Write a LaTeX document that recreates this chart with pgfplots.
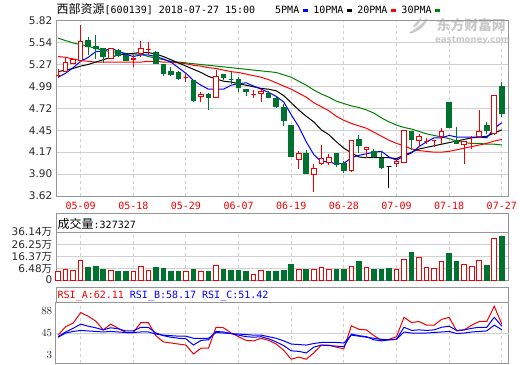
\documentclass[border=0pt]{standalone}
\usepackage{pgfplots}
\pgfplotsset{compat=1.18}
\usepackage{pgfplotstable}
\usepackage{fontspec}
\setmainfont{DejaVu Sans}
\newfontfamily\cjk{Noto Sans CJK SC}
\newfontfamily\mono{DejaVu Sans Mono}
\definecolor{cred}{RGB}{240,0,0}
\definecolor{cgreen}{RGB}{0,114,48}
\definecolor{gridc}{RGB}{208,208,208}
\definecolor{framec}{RGB}{150,150,150}
\definecolor{tickc}{RGB}{40,40,40}
\definecolor{mablue}{RGB}{0,0,255}
\definecolor{mared}{RGB}{255,0,0}
\definecolor{magreen}{RGB}{0,128,0}
\definecolor{wm}{RGB}{200,200,200}

\pgfdeclareplotmark{candle}{%
  \pgfpathmoveto{\pgfpoint{0bp}{\CandLO*79.7bp}}%
  \pgfpathlineto{\pgfpoint{0bp}{\CandHO*79.7bp}}%
  \pgfusepathqstroke
  \pgfpathrectangle{\pgfpoint{-2.3bp}{0bp}}{\pgfpoint{4.6bp}{\CandCO*79.7bp}}%
  \pgfusepathqfillstroke}
\pgfdeclareplotmark{volbar}{%
  \pgfpathrectangle{\pgfpoint{-2.3bp}{0bp}}{\pgfpoint{4.6bp}{-\VolH*1.2374bp}}%
  \pgfusepathqfillstroke}

\pgfplotstableread{
i o h l c
0 5.126 5.218 5.100 5.126
1 5.176 5.365 5.170 5.290
2 5.280 5.340 5.270 5.330
3 5.315 5.765 5.300 5.563
7 5.345 5.480 5.340 5.470
10 5.335 5.395 5.240 5.340
11 5.408 5.563 5.370 5.470
12 5.460 5.555 5.390 5.460
17 5.105 5.155 5.050 5.105
19 4.870 4.930 4.800 4.894
21 4.860 5.197 4.855 5.120
26 4.894 4.945 4.848 4.894
27 4.900 4.960 4.800 4.930
32 4.074 4.190 3.965 4.158
34 3.893 4.020 3.674 3.969
35 4.028 4.259 4.011 4.091
36 4.040 4.150 4.007 4.104
39 3.944 4.322 3.915 4.322
41 4.209 4.240 4.100 4.230
45 4.030 4.080 3.985 4.050
46 4.040 4.448 4.030 4.448
48 4.322 4.400 4.240 4.364
49 4.306 4.348 4.272 4.306
50 4.314 4.322 4.238 4.314
51 4.369 4.473 4.259 4.427
54 4.270 4.310 4.020 4.300
55 4.285 4.370 4.210 4.285
56 4.369 4.700 4.356 4.427
58 4.398 4.882 4.385 4.882
}\upc
\pgfplotstableread{
i o h l c
4 5.576 5.610 5.395 5.490
5 5.500 5.640 5.345 5.470
6 5.470 5.480 5.290 5.366
8 5.450 5.460 5.370 5.380
9 5.387 5.395 5.310 5.315
13 5.420 5.440 5.270 5.280
14 5.270 5.280 5.130 5.160
15 5.176 5.240 5.130 5.143
16 5.170 5.190 5.080 5.100
18 5.070 5.080 4.800 4.820
20 4.894 4.915 4.700 4.860
22 5.143 5.143 5.070 5.110
23 5.080 5.180 5.030 5.080
24 5.084 5.110 4.930 4.987
25 4.958 4.960 4.870 4.930
28 4.911 4.932 4.852 4.860
29 4.848 4.860 4.720 4.743
30 4.735 4.775 4.495 4.566
31 4.503 4.510 4.115 4.116
33 4.154 4.196 3.893 3.906
37 4.154 4.154 3.990 4.020
38 4.028 4.060 3.910 3.944
40 4.327 4.390 4.154 4.250
42 4.175 4.210 4.095 4.116
43 4.091 4.190 3.955 3.977
47 4.432 4.432 4.200 4.335
52 4.789 4.789 4.470 4.482
53 4.314 4.480 4.270 4.280
57 4.503 4.553 4.398 4.440
59 4.995 5.050 4.617 4.659
}\dnc
\pgfplotstableread{
i o h l c
44 3.990 3.990 3.720 3.990
}\flatc
\pgfplotstableread{
i ma5 ma10 ma20 ma30
0 5.11 5.18 5.37 5.60
1 5.16 5.20 5.36 5.57
2 5.23 5.22 5.34 5.54
3 5.31 5.25 5.32 5.52
4 5.36 5.27 5.31 5.50
5 5.43 5.30 5.30 5.47
6 5.44 5.33 5.30 5.45
7 5.47 5.36 5.30 5.43
8 5.44 5.39 5.30 5.42
9 5.40 5.40 5.30 5.41
10 5.37 5.41 5.30 5.40
11 5.39 5.42 5.30 5.40
12 5.39 5.42 5.31 5.37
13 5.37 5.40 5.31 5.35
14 5.34 5.37 5.30 5.33
15 5.30 5.33 5.30 5.31
16 5.23 5.29 5.29 5.30
17 5.16 5.25 5.28 5.29
18 5.07 5.21 5.26 5.28
19 5.01 5.17 5.25 5.27
20 4.96 5.12 5.23 5.26
21 4.96 5.09 5.22 5.25
22 4.96 5.06 5.20 5.24
23 5.01 5.05 5.18 5.23
24 5.03 5.03 5.17 5.22
25 5.04 5.01 5.15 5.21
26 5.00 4.99 5.13 5.20
27 4.96 4.97 5.11 5.19
28 4.92 4.96 5.08 5.18
29 4.87 4.94 5.04 5.17
30 4.80 4.88 5.00 5.14
31 4.64 4.79 4.96 5.11
32 4.49 4.70 4.91 5.06
33 4.30 4.62 4.86 5.01
34 4.14 4.55 4.79 4.95
35 4.05 4.45 4.74 4.90
36 4.05 4.39 4.69 4.86
37 4.02 4.30 4.62 4.81
38 4.03 4.22 4.57 4.78
39 4.10 4.16 4.53 4.75
40 4.13 4.11 4.50 4.73
41 4.15 4.10 4.47 4.70
42 4.17 4.10 4.42 4.66
43 4.18 4.10 4.37 4.60
44 4.11 4.10 4.32 4.55
45 4.07 4.09 4.28 4.51
46 4.12 4.13 4.25 4.48
47 4.16 4.17 4.21 4.46
48 4.24 4.21 4.19 4.43
49 4.30 4.23 4.18 4.40
50 4.35 4.25 4.17 4.38
51 4.35 4.27 4.17 4.36
52 4.38 4.29 4.18 4.34
53 4.36 4.31 4.20 4.31
54 4.36 4.33 4.22 4.29
55 4.36 4.35 4.24 4.28
56 4.36 4.36 4.26 4.28
57 4.35 4.37 4.28 4.27
58 4.47 4.41 4.31 4.27
59 4.54 4.45 4.33 4.26
}\matab
\pgfplotstableread{
i v
0 4.3
1 6.2
2 5.1
3 13.7
7 4.9
10 4.3
11 8.1
12 5.1
17 4.3
19 4.3
21 9.7
26 2.4
27 4.9
32 5.7
34 5.7
35 7.8
36 5.7
39 8.6
41 7.8
45 5.7
46 14.3
48 15.9
49 7.8
50 6.5
51 12.7
54 10.5
55 8.6
56 13.5
58 31.3
}\upv
\pgfplotstableread{
i v
4 7.5
5 8.1
6 5.9
8 4.3
9 4.3
13 7.5
14 6.7
15 4.3
16 4.3
18 5.9
20 4.3
22 5.9
23 5.1
24 5.1
25 4.3
28 4.3
29 4.3
30 5.1
31 10.5
33 5.7
37 5.7
38 5.7
40 12.9
42 5.7
43 5.7
44 6.5
47 20.2
52 18.6
53 12.9
57 8.9
59 32.73
}\dnv
\pgfplotstableread{
i a b c
0 41 38 37
1 57 47 45
2 64 54 48
3 84 62 50
4 77 58 49
5 68 55 48
6 51 51 47
7 62 55 48
8 54 53 47
9 46 49 46
10 46 49 46
11 65 56 47
12 65 56 47
13 40 45 43
14 28 40 41
15 26 37 40
16 24 35 39
17 22 34 39
18 5 22 35
19 16 31 35
20 16 32 35
21 56 48 46
22 55 47 45
23 45 44 44
24 38 41 43
25 31 38 42
26 30 37 41
27 35 38 41
28 31 34 38
29 24 28 35
30 12 21 30
31 -5 11 24
32 -1 10 23
33 -5 7 22
34 7 18 25
35 22 22 27
36 22 21 27
37 18 20 27
38 15 19 26
39 59 43 41
40 52 40 39
41 51 38 37
42 40 32 35
43 31 30 33
44 33 32 32
45 38 33 33
46 75 56 47
47 65 50 45
48 67 51 45
49 60 50 45
50 60 51 46
51 71 56 47
52 75 58 48
53 49 50 44
54 51 51 45
55 60 54 47
56 67 56 48
57 67 56 49
58 96 75 60
59 62.11 58.17 51.42
}\rsitab

\pgfplotsset{
  panel/.style={
    anchor=south west, x=7.52bp, xmin=-0.28, xmax=59.95,
    xtick={3,10,17,24,31,38,45,52,59},
    axis line style={framec, line width=1bp},
    xmajorgrids,
    x grid style={gridc, dash pattern=on 3bp off 3bp, line width=1bp},
    y grid style={gridc, line width=1bp},
    major tick length=0pt,
    tick style={draw=none},
    ticklabel style={font=\fontsize{10.5bp}{12bp}\selectfont, text=tickc},
    yticklabel style={inner xsep=0pt, xshift=-3.6bp},
  },
}

\begin{document}
\begin{tikzpicture}
\useasboundingbox (0,0) rectangle (520bp,-365bp);

% watermark (behind the price panel)
\fill[wm] (409bp,-32.5bp) .. controls (416bp,-29bp) and (422bp,-24bp) .. (427.5bp,-17.5bp)
  .. controls (426bp,-26bp) and (419bp,-31bp) .. (411bp,-33.5bp) -- cycle;
\fill[wm] (413bp,-26bp) .. controls (416bp,-23bp) and (419bp,-20bp) .. (421bp,-17bp)
  .. controls (421bp,-21bp) and (418bp,-25bp) .. (414bp,-27.5bp) -- cycle;
\node[anchor=base west, inner sep=0pt, text=wm] at (436.5bp,-30.5bp)
  {\cjk\bfseries\fontsize{13.8bp}{15bp}\selectfont 东方财富网};
\node[anchor=base west, inner sep=0pt, text=wm] at (435bp,-42.3bp)
  {\bfseries\fontsize{8.5bp}{9bp}\selectfont eastmoney.com};

% main price panel
\begin{axis}[panel, name=main, at={(56bp,-196bp)}, y=79.7bp, ymin=3.62, ymax=5.82,
  ymajorgrids,
  ytick={3.62,3.895,4.17,4.445,4.72,4.995,5.27,5.545,5.82},
  yticklabels={3.62,3.90,4.17,4.45,4.72,4.99,5.27,5.54,5.82},
  xticklabels={05-09,05-18,05-29,06-07,06-19,06-28,07-09,07-18,07-27},
  xticklabel style={font=\mono\fontsize{10bp}{12bp}\selectfont, text=cred, anchor=center, yshift=-10bp},
]
\addplot[only marks, mark=candle, mark options={draw=cred, fill=white, line width=1bp},
  visualization depends on={\thisrow{h}-\thisrow{o} \as \CandHO},
  visualization depends on={\thisrow{l}-\thisrow{o} \as \CandLO},
  visualization depends on={\thisrow{c}-\thisrow{o} \as \CandCO}]
  table[x=i, y=o]{\upc};
\addplot[only marks, mark=candle, mark options={draw=cgreen, fill=cgreen, line width=1bp},
  visualization depends on={\thisrow{h}-\thisrow{o} \as \CandHO},
  visualization depends on={\thisrow{l}-\thisrow{o} \as \CandLO},
  visualization depends on={\thisrow{c}-\thisrow{o} \as \CandCO}]
  table[x=i, y=o]{\dnc};
\addplot[only marks, mark=candle, mark options={draw=black, fill=black, line width=1bp},
  visualization depends on={\thisrow{h}-\thisrow{o} \as \CandHO},
  visualization depends on={\thisrow{l}-\thisrow{o} \as \CandLO},
  visualization depends on={\thisrow{c}-\thisrow{o} \as \CandCO}]
  table[x=i, y=o]{\flatc};
\addplot[magreen, line width=1bp, mark=none] table[x=i, y=ma30]{\matab};
\addplot[mared, line width=1bp, mark=none] table[x=i, y=ma20]{\matab};
\addplot[black, line width=1bp, mark=none] table[x=i, y=ma10]{\matab};
\addplot[mablue, line width=1bp, mark=none] table[x=i, y=ma5]{\matab};
\end{axis}

% volume panel
\begin{axis}[panel, name=vol, at={(56bp,-280bp)}, y=1.2374bp, ymin=-2.42, ymax=36.14,
  ymajorgrids,
  ytick={-2.42,6.48,16.37,26.25,36.14},
  yticklabels={0,6.48{\cjk 万},16.37{\cjk 万},26.25{\cjk 万},36.14{\cjk 万}},
  xticklabels={},
]
\addplot[only marks, mark=volbar, mark options={draw=cred, fill=white, line width=1bp},
  visualization depends on={\thisrow{v}+2.42 \as \VolH}]
  table[x=i, y=v]{\upv};
\addplot[only marks, mark=volbar, mark options={draw=cgreen, fill=cgreen, line width=1bp},
  visualization depends on={\thisrow{v}+2.42 \as \VolH}]
  table[x=i, y=v]{\dnv};
\end{axis}

% RSI panel
\begin{axis}[panel, name=rsi, at={(56bp,-363.3bp)}, y=0.5239bp, ymin=-12.8, ymax=104.2,
  ytick={3,88}, extra y ticks={45}, extra y tick style={grid=major},
  xticklabels={},
]
\addplot[cred, line width=1bp, mark=none] table[x=i, y=a]{\rsitab};
\addplot[mablue, line width=1bp, mark=none] table[x=i, y=b]{\rsitab};
\addplot[mablue, line width=1bp, mark=none] table[x=i, y=c]{\rsitab};
\end{axis}

% header boxes
\draw[framec, line width=1bp] (vol.north west) -- ++(0,18.3bp) -| (vol.north east);
\draw[framec, line width=1bp] (rsi.north west) -- ++(0,14.7bp) -| (rsi.north east);

% title and legend
\node[anchor=base west, inner sep=0pt] at (56.5bp,-13.5bp)
  {{\cjk\fontsize{12bp}{12bp}\selectfont 西部资源}{\mono\fontsize{10bp}{12bp}\selectfont [600139] 2018-07-27 15:00}};
\node[anchor=base west, inner sep=0pt] at (275bp,-13.5bp)
  {\mono\fontsize{10bp}{12bp}\selectfont 5PMA\hspace{3.5bp}{\color{mablue}\rule[1.8bp]{5bp}{3bp}}\hspace{5.5bp}10PMA\hspace{3.5bp}{\color{black}\rule[1.8bp]{5bp}{3bp}}\hspace{5.5bp}20PMA\hspace{3.5bp}{\color{mared}\rule[1.8bp]{5bp}{3bp}}\hspace{5.5bp}30PMA\hspace{3.5bp}{\color{magreen}\rule[1.8bp]{5bp}{3bp}}};

% panel headers
\node[anchor=base west, inner sep=0pt] at (57.5bp,-228.5bp)
  {{\cjk\fontsize{12bp}{12bp}\selectfont 成交量}{\mono\fontsize{10bp}{12bp}\selectfont :327327}};
\node[anchor=base west, inner sep=0pt] at (57.5bp,-298bp)
  {\mono\fontsize{10bp}{12bp}\selectfont{\color{cred}RSI\_A:62.11} {\color{mablue}RSI\_B:58.17} {\color{mablue}RSI\_C:51.42}};
\end{tikzpicture}
\end{document}
